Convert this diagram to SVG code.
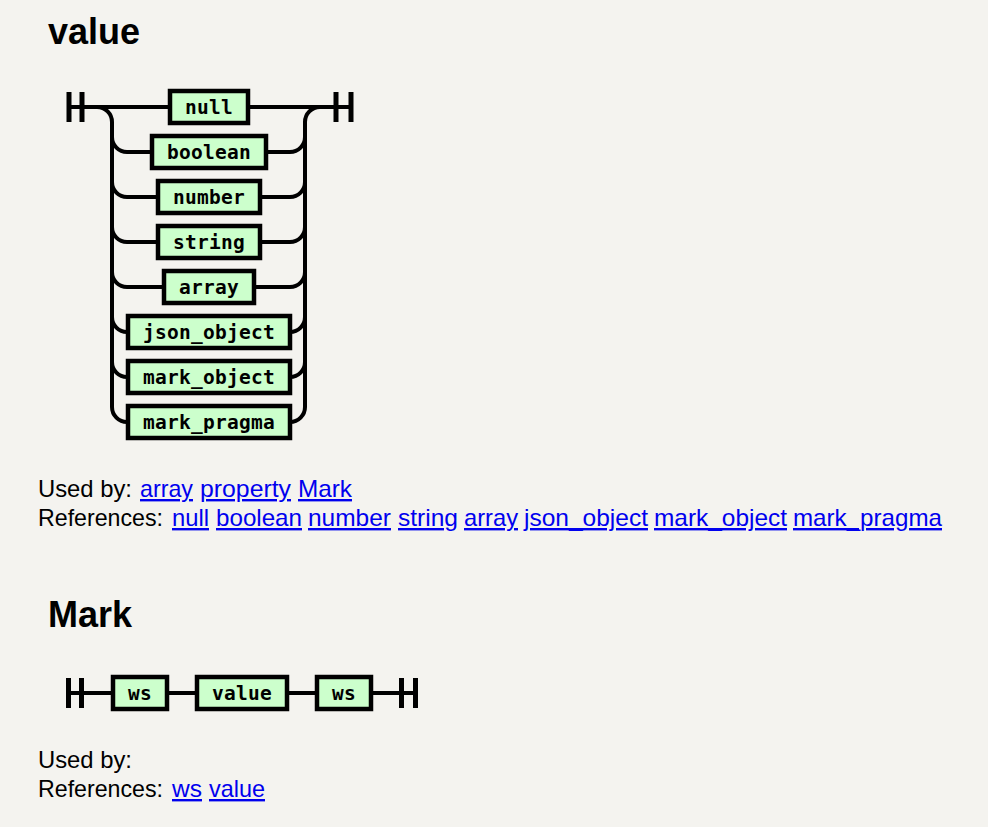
<svg xmlns="http://www.w3.org/2000/svg" width="988" height="827" viewBox="0 0 988 827">
<style>
.bg{fill:#F4F3EF}
.box rect{fill:#CCFFCC;stroke:#000;stroke-width:4.5}
.box text{font-family:"DejaVu Sans Mono",monospace;font-weight:bold;font-size:19.5px;letter-spacing:0.26px;text-anchor:middle;fill:#000}
.line{fill:none;stroke:#000;stroke-width:4}
.bar{stroke:#000;stroke-width:5}
.h{font-family:"Liberation Sans",Arial,sans-serif;font-weight:bold;font-size:36px;fill:#000}
.t{font-family:"Liberation Sans",Arial,sans-serif;font-size:24px;fill:#000}
.a{font-family:"Liberation Sans",Arial,sans-serif;font-size:24px;fill:#0000EE;text-decoration:underline}
</style>
<rect class="bg" x="0" y="0" width="988" height="827"/>

<text class="h" x="48" y="44">value</text>

<g id="connectors-value">
<path class="line" d="M69,107 H170 M248,107 H351"/>
<path class="line" d="M97,107 a15,15 0 0 1 15,15 V407 a15,15 0 0 0 15,15 H128"/>
<path class="line" d="M351,107 H320 M320,107 a15,15 0 0 0 -15,15 V407 a15,15 0 0 1 -15,15"/>
<path class="line" d="M112,137 a15,15 0 0 0 15,15 H152 M266,152 H290 a15,15 0 0 0 15,-15"/>
<path class="line" d="M112,182 a15,15 0 0 0 15,15 H158 M260,197 H290 a15,15 0 0 0 15,-15"/>
<path class="line" d="M112,227 a15,15 0 0 0 15,15 H158 M260,242 H290 a15,15 0 0 0 15,-15"/>
<path class="line" d="M112,272 a15,15 0 0 0 15,15 H164 M254,287 H290 a15,15 0 0 0 15,-15"/>
<path class="line" d="M112,317 a15,15 0 0 0 15,15 H128 M290,332 a15,15 0 0 0 15,-15"/>
<path class="line" d="M112,362 a15,15 0 0 0 15,15 H128 M290,377 a15,15 0 0 0 15,-15"/>
<line class="bar" x1="69" y1="92" x2="69" y2="122"/>
<line class="bar" x1="82" y1="92" x2="82" y2="122"/>
<line class="bar" x1="336" y1="92" x2="336" y2="122"/>
<line class="bar" x1="351" y1="92" x2="351" y2="122"/>
</g>

<g id="node-null" class="box"><rect x="170" y="91" width="78" height="32"/><text x="209.1" y="114">null</text></g>
<g id="node-boolean" class="box"><rect x="152" y="136" width="114" height="32"/><text x="209.1" y="159">boolean</text></g>
<g id="node-number" class="box"><rect x="158" y="181" width="102" height="32"/><text x="209.1" y="204">number</text></g>
<g id="node-string" class="box"><rect x="158" y="226" width="102" height="32"/><text x="209.1" y="249">string</text></g>
<g id="node-array" class="box"><rect x="164" y="271" width="90" height="32"/><text x="209.1" y="294">array</text></g>
<g id="node-json_object" class="box"><rect x="128" y="316" width="162" height="32"/><text x="209.1" y="339">json_object</text></g>
<g id="node-mark_object" class="box"><rect x="128" y="361" width="162" height="32"/><text x="209.1" y="384">mark_object</text></g>
<g id="node-mark_pragma" class="box"><rect x="128" y="406" width="162" height="32"/><text x="209.1" y="429">mark_pragma</text></g>

<text class="t" x="38" y="497" textLength="94" lengthAdjust="spacingAndGlyphs">Used by:</text>
<text class="a" x="140" y="497" textLength="53" lengthAdjust="spacingAndGlyphs">array</text>
<text class="a" x="200" y="497" textLength="91" lengthAdjust="spacingAndGlyphs">property</text>
<text class="a" x="298" y="497" textLength="54" lengthAdjust="spacingAndGlyphs">Mark</text>
<text class="t" x="38" y="526" textLength="125" lengthAdjust="spacingAndGlyphs">References:</text>
<text class="a" x="172" y="526" textLength="37" lengthAdjust="spacingAndGlyphs">null</text>
<text class="a" x="216" y="526" textLength="86" lengthAdjust="spacingAndGlyphs">boolean</text>
<text class="a" x="308" y="526" textLength="83" lengthAdjust="spacingAndGlyphs">number</text>
<text class="a" x="398" y="526" textLength="60" lengthAdjust="spacingAndGlyphs">string</text>
<text class="a" x="464" y="526" textLength="54" lengthAdjust="spacingAndGlyphs">array</text>
<text class="a" x="524" y="526" textLength="124" lengthAdjust="spacingAndGlyphs">json_object</text>
<text class="a" x="654" y="526" textLength="133" lengthAdjust="spacingAndGlyphs">mark_object</text>
<text class="a" x="793" y="526" textLength="149" lengthAdjust="spacingAndGlyphs">mark_pragma</text>

<text class="h" x="48" y="627">Mark</text>

<g id="connectors-mark">
<path class="line" d="M68.5,693 H113 M167,693 H197 M287,693 H317 M371,693 H415.5"/>
<line class="bar" x1="68.5" y1="678" x2="68.5" y2="708"/>
<line class="bar" x1="81.5" y1="678" x2="81.5" y2="708"/>
<line class="bar" x1="401.5" y1="678" x2="401.5" y2="708"/>
<line class="bar" x1="415.5" y1="678" x2="415.5" y2="708"/>
</g>
<g id="node-ws1" class="box"><rect x="113" y="677" width="54" height="32"/><text x="140.1" y="700">ws</text></g>
<g id="node-value" class="box"><rect x="197" y="677" width="90" height="32"/><text x="242.1" y="700">value</text></g>
<g id="node-ws2" class="box"><rect x="317" y="677" width="54" height="32"/><text x="344.1" y="700">ws</text></g>

<text class="t" x="38" y="768" textLength="94" lengthAdjust="spacingAndGlyphs">Used by:</text>
<text class="t" x="38" y="797" textLength="125" lengthAdjust="spacingAndGlyphs">References:</text>
<text class="a" x="172" y="797" textLength="30" lengthAdjust="spacingAndGlyphs">ws</text>
<text class="a" x="209" y="797" textLength="56" lengthAdjust="spacingAndGlyphs">value</text>
</svg>
